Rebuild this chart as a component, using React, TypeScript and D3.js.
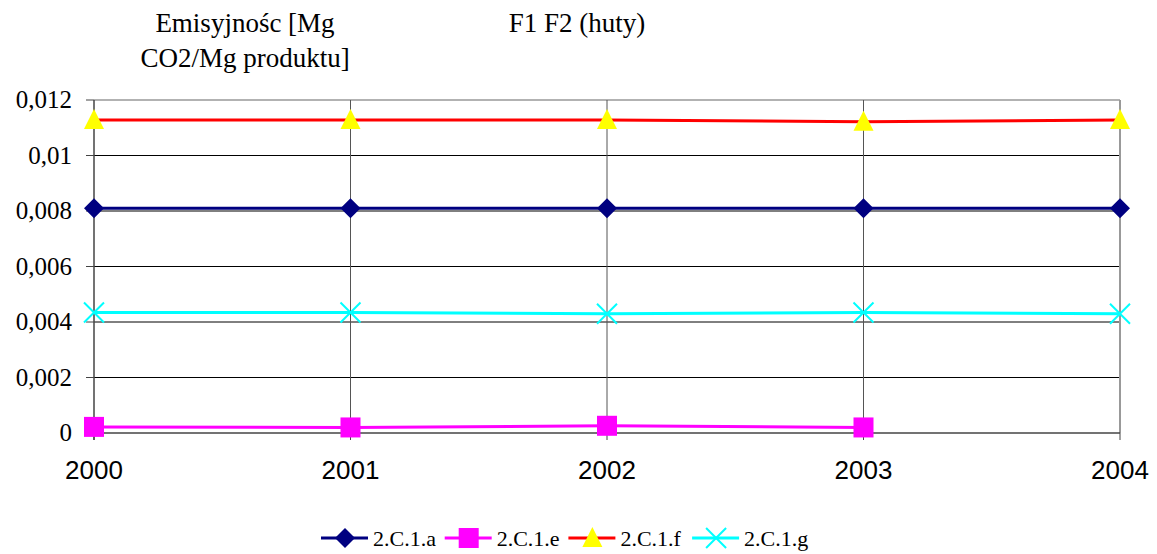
import React from "react";
import * as d3 from "d3";

const years = ["2000", "2001", "2002", "2003", "2004"];
const yTicks = [0, 0.002, 0.004, 0.006, 0.008, 0.01, 0.012];

const series_a = [0.0081, 0.0081, 0.0081, 0.0081, 0.0081];
const series_e = [0.00022, 0.0002, 0.00026, 0.0002];
const series_f = [0.01128, 0.01128, 0.01128, 0.01122, 0.01128];
const series_g = [0.00434, 0.00434, 0.0043, 0.00434, 0.0043];

const seriesNames = ["2.C.1.a", "2.C.1.e", "2.C.1.f", "2.C.1.g"];

const W = 1157;
const H = 554;

function Marker({ kind, x, y }: { kind: string; x: number; y: number }) {
    if (kind === "diamond") {
        return <path d={`M${x},${y - 10}L${x + 10},${y}L${x},${y + 10}L${x - 10},${y}Z`} fill="#000080" />;
    }
    if (kind === "square") {
        return <rect x={x - 10} y={y - 10} width={20} height={20} fill="#FF00FF" />;
    }
    if (kind === "triangle") {
        return <path d={`M${x},${y - 11}L${x + 10},${y + 9}L${x - 10},${y + 9}Z`} fill="#FFFF00" />;
    }
    return (
        <path
            d={`M${x - 10},${y - 10}L${x + 10},${y + 10}M${x + 10},${y - 10}L${x - 10},${y + 10}`}
            stroke="#00FFFF"
            strokeWidth={2}
            fill="none"
        />
    );
}

export default function App() {
    const x = d3.scalePoint().domain(years).range([94, 1120]);
    const y = d3.scaleLinear().domain([0, 0.012]).range([433, 100]);

    const lineGen = d3
        .line<number>()
        .x((_, i) => x(years[i]) as number)
        .y(d => y(d));

    const series = [
        { name: seriesNames[0], values: series_a, color: "#000080", marker: "diamond" },
        { name: seriesNames[1], values: series_e, color: "#FF00FF", marker: "square" },
        { name: seriesNames[2], values: series_f, color: "#FF0000", marker: "triangle" },
        { name: seriesNames[3], values: series_g, color: "#00FFFF", marker: "cross" }
    ];

    const serif = "Liberation Serif, Times New Roman, serif";
    const sans = "Liberation Sans, Arial, sans-serif";

    return (
        <svg
            width={W}
            height={H}
            style={{ position: "absolute", left: 0, top: 0, background: "#fff" }}
        >
            <rect width={W} height={H} fill="#fff" />

            {/* titles */}
            <g style={{ fontFamily: serif, fontSize: 27 }} textAnchor="middle">
                <text x={245} y={32}>Emisyjnośc [Mg</text>
                <text x={245} y={67}>CO2/Mg produktu]</text>
                <text x={577} y={32}>F1 F2 (huty)</text>
            </g>

            {/* horizontal grid */}
            {yTicks.slice(1, -1).map(t => (
                <line key={t} x1={94} x2={1120} y1={y(t)} y2={y(t)} stroke="#000" strokeWidth={1} />
            ))}
            <line x1={94} x2={1120} y1={y(0.012)} y2={y(0.012)} stroke="#999" strokeWidth={1.5} />

            {/* vertical grid */}
            {years.slice(1, -1).map(yr => (
                <line key={yr} x1={x(yr)} x2={x(yr)} y1={100} y2={433} stroke="#555" strokeWidth={1} />
            ))}
            <line x1={1120} x2={1120} y1={100} y2={433} stroke="#999" strokeWidth={2} />

            {/* axes */}
            <line x1={94} x2={94} y1={100} y2={440} stroke="#444" strokeWidth={1.5} />
            <line x1={94} x2={1120} y1={433} y2={433} stroke="#444" strokeWidth={1.5} />
            {yTicks.map(t => (
                <line key={t} x1={86} x2={94} y1={y(t)} y2={y(t)} stroke="#444" strokeWidth={1} />
            ))}
            {years.map(yr => (
                <line key={yr} x1={x(yr)} x2={x(yr)} y1={433} y2={440} stroke="#444" strokeWidth={1} />
            ))}

            {/* tick labels */}
            {yTicks.map(t => (
                <text
                    key={t}
                    x={72}
                    y={y(t) + 8}
                    style={{ fontFamily: serif, fontSize: 25 }}
                    textAnchor="end"
                >
                    {t === 0 ? "0" : String(t).replace(".", ",")}
                </text>
            ))}
            {years.map(yr => (
                <text
                    key={yr}
                    x={x(yr)}
                    y={479}
                    style={{ fontFamily: sans, fontSize: 26 }}
                    textAnchor="middle"
                >
                    {yr}
                </text>
            ))}

            {/* series */}
            {series.map(s => (
                <g key={s.name}>
                    <path d={lineGen(s.values) || ""} fill="none" stroke={s.color} strokeWidth={3} />
                    {s.values.map((v, i) => (
                        <Marker key={i} kind={s.marker} x={x(years[i]) as number} y={y(v)} />
                    ))}
                </g>
            ))}

            {/* legend */}
            {series.map((s, i) => {
                const lx = 321 + i * 123.7;
                return (
                    <g key={s.name}>
                        <line x1={lx} x2={lx + 47} y1={538} y2={538} stroke={s.color} strokeWidth={3} />
                        <Marker kind={s.marker} x={lx + 24} y={538} />
                        <text x={lx + 52} y={546} style={{ fontFamily: serif, fontSize: 22 }}>{s.name}</text>
                    </g>
                );
            })}
        </svg>
    );
}
